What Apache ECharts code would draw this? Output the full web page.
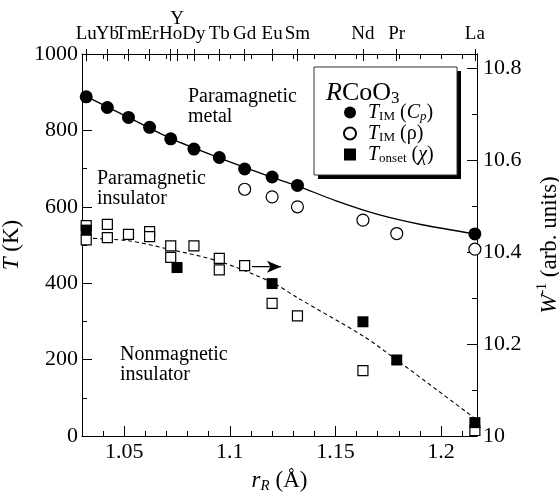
<!DOCTYPE html>
<html>
<head>
<meta charset="utf-8">
<script src="https://cdn.jsdelivr.net/npm/echarts@6/dist/echarts.min.js"></script>
<style>
  html, body { margin: 0; padding: 0; background: #fff; }
  #chart { width: 559px; height: 496px; }
</style>
</head>
<body>
<div id="chart"></div>
<script>
// ionic radius r_R (Å) of the rare earths, shown on the top axis
const elementNames = ['Lu', 'Yb', 'Tm', 'Er', 'Ho', 'Y', 'Dy', 'Tb', 'Gd', 'Eu', 'Sm', 'Nd', 'Pr', 'La']
const elementRadii = [1.032, 1.042, 1.052, 1.062, 1.072, 1.075, 1.083, 1.095, 1.107, 1.120, 1.132, 1.163, 1.179, 1.216]

// T_IM from specific heat (filled circles)
const rCp = [1.032, 1.042, 1.052, 1.062, 1.072, 1.083, 1.095, 1.107, 1.120, 1.132, 1.216]
const tCp = [888, 860, 834, 808, 778, 751, 729, 699, 678, 656, 529]

// T_IM from resistivity (open circles)
const rRho = [1.107, 1.120, 1.132, 1.163, 1.179, 1.216]
const tRho = [646, 626, 600, 565, 530, 489]

// T_onset from susceptibility (filled squares)
const rOnset = [1.032, 1.075, 1.120, 1.163, 1.179, 1.216]
const tOnset = [539, 441, 399, 299, 199, 35]

// W^-1 (open squares, right axis)
const rW = [1.032, 1.032, 1.042, 1.042, 1.052, 1.062, 1.062, 1.072, 1.072, 1.083, 1.095, 1.095, 1.107, 1.120, 1.132, 1.163, 1.216]
const wValues = [10.457, 10.426, 10.460, 10.431, 10.438, 10.444, 10.433, 10.413, 10.388, 10.413, 10.386, 10.361, 10.370, 10.288, 10.261, 10.142, 10.012]

// guide curves
const rFitCp = [1.032, 1.052, 1.072, 1.095, 1.120, 1.132, 1.150, 1.170, 1.191, 1.216]
const tFitCp = [889, 834, 779, 728, 677, 655, 616, 580, 553, 529]
const rFitOnset = [1.032, 1.052, 1.072, 1.095, 1.120, 1.132, 1.163, 1.179, 1.216]
const tFitOnset = [518, 511, 488, 457, 402, 362, 262, 199, 46]

// arrow pointing to the right axis
const rArrow = [1.1105, 1.1242]
const wArrow = [10.368, 10.368]

// ticks
const xMajorTicks = [1.05, 1.1, 1.15, 1.2]
const xMinorTicks = [1.04, 1.05, 1.06, 1.07, 1.08, 1.09, 1.1, 1.11, 1.12, 1.13, 1.14, 1.15, 1.16, 1.17, 1.18, 1.19, 1.2, 1.21]
const wMajorTicks = [10, 10.2, 10.4, 10.6, 10.8]
const wMinorTicks = [10.1, 10.3, 10.5, 10.7]

const FONT = "'Liberation Serif', 'DejaVu Serif', serif"
const X_MIN = 1.03
const X_MAX = 1.217

const zip = (xs, ys) => xs.map((x, i) => [x, ys[i]])

function baseX(extra) {
  return Object.assign({
    type: 'value',
    min: X_MIN,
    max: X_MAX,
    splitLine: { show: false },
    axisLine: { show: false, lineStyle: { color: '#000', width: 1 } },
    axisTick: { show: false },
    axisLabel: { show: false },
  }, extra)
}

// element labels alternate between two top axes so neighbours are not hidden
function elementLabelAxis(parity) {
  const values = elementRadii.filter((r, i) => i % 2 === parity)
  return baseX({
    position: 'top',
    axisLabel: {
      show: true,
      customValues: values,
      hideOverlap: false,
      showMinLabel: true,
      showMaxLabel: true,
      margin: 10,
      fontFamily: FONT,
      fontSize: 19,
      color: '#000',
      formatter: (v) => {
        const i = elementRadii.findIndex((r) => Math.abs(r - v) < 1e-6)
        const name = i >= 0 ? elementNames[i] : ''
        return name === 'Y' ? '{up|Y}' : name
      },
      rich: {
        up: { fontFamily: FONT, fontSize: 19, padding: [0, 0, 15, 0] },
      },
    },
  })
}

const legendNames = {
  TIM_Cp: '{i|T}{sub|IM} ({i|C}{subi|p})',
  TIM_rho: '{i|T}{sub|IM} (ρ)',
  Tonset: '{i|T}{sub|onset} ({i|χ})',
}

const chart = echarts.init(document.getElementById('chart'))

const option = {
  animation: false,
  backgroundColor: '#fff',
  textStyle: { fontFamily: FONT, color: '#000' },
  grid: { left: 82, right: 82, top: 54, bottom: 60, containLabel: false, outerBoundsMode: 'none' },
  title: {
    text: '{i|R}CoO{sub|3}',
    left: 321,
    top: 74,
    z: 8,
    textStyle: {
      fontFamily: FONT,
      fontSize: 26,
      fontWeight: 'normal',
      color: '#000',
      lineHeight: 28,
      rich: {
        i: { fontFamily: FONT, fontSize: 26, fontStyle: 'italic', lineHeight: 28 },
        sub: { fontFamily: FONT, fontSize: 17, lineHeight: 14, verticalAlign: 'bottom' },
      },
    },
  },
  legend: {
    data: [
      { name: 'TIM_Cp' },
      { name: 'TIM_rho' },
      { name: 'Tonset', icon: 'path://M0 0h10v10h-10z' },
    ],
    orient: 'vertical',
    left: 343,
    top: 102,
    padding: 0,
    itemGap: 0,
    itemWidth: 26,
    itemHeight: 12,
    z: 7,
    formatter: (name) => legendNames[name],
    textStyle: {
      fontFamily: FONT,
      fontSize: 20,
      color: '#000',
      lineHeight: 21,
      rich: {
        i: { fontFamily: FONT, fontSize: 20, fontStyle: 'italic', lineHeight: 21 },
        sub: { fontFamily: FONT, fontSize: 13, lineHeight: 11, verticalAlign: 'bottom' },
        subi: { fontFamily: FONT, fontSize: 13, fontStyle: 'italic', lineHeight: 11, verticalAlign: 'bottom' },
      },
    },
  },
  xAxis: [
    baseX({
      position: 'bottom',
      name: '{i|r}{sub|R} (Å)',
      nameLocation: 'middle',
      nameGap: 32,
      nameTextStyle: {
        fontFamily: FONT,
        fontSize: 23,
        color: '#000',
        lineHeight: 26,
        rich: {
          i: { fontFamily: FONT, fontSize: 23, fontStyle: 'italic', lineHeight: 26 },
          sub: { fontFamily: FONT, fontSize: 15, fontStyle: 'italic', lineHeight: 12, verticalAlign: 'bottom' },
        },
      },
      axisLine: { show: true, lineStyle: { color: '#000', width: 1 } },
      axisTick: { show: true, inside: true, length: 10, customValues: xMajorTicks, lineStyle: { color: '#000' } },
      axisLabel: {
        show: true,
        customValues: xMajorTicks,
        margin: 5,
        fontFamily: FONT,
        fontSize: 22,
        color: '#000',
        formatter: (v) => String(+v.toFixed(2)),
      },
    }),
    baseX({
      position: 'bottom',
      axisTick: { show: true, inside: true, length: 5, customValues: xMinorTicks, lineStyle: { color: '#000' } },
    }),
    baseX({
      position: 'top',
      axisLine: { show: true, lineStyle: { color: '#000', width: 1 } },
      axisTick: { show: true, inside: true, length: 5, customValues: xMinorTicks, lineStyle: { color: '#000' } },
    }),
    baseX({
      position: 'top',
      axisTick: { show: true, inside: true, length: 7, customValues: elementRadii, lineStyle: { color: '#000' } },
    }),
    baseX({
      position: 'top',
      axisTick: { show: true, inside: false, length: 5, customValues: elementRadii, lineStyle: { color: '#000' } },
    }),
    elementLabelAxis(0),
    elementLabelAxis(1),
  ],
  yAxis: [
    {
      type: 'value',
      position: 'left',
      min: 0,
      max: 1000,
      interval: 200,
      name: '{i|T} (K)',
      nameLocation: 'middle',
      nameRotate: 90,
      nameGap: 37,
      nameTextStyle: {
        fontFamily: FONT,
        fontSize: 23,
        color: '#000',
        rich: { i: { fontFamily: FONT, fontSize: 23, fontStyle: 'italic' } },
      },
      splitLine: { show: false },
      axisLine: { show: true, lineStyle: { color: '#000', width: 1 } },
      axisTick: { show: true, inside: true, length: 10, lineStyle: { color: '#000' } },
      minorTick: { show: true, splitNumber: 2, length: 5, lineStyle: { color: '#000' } },
      axisLabel: { margin: 4, fontFamily: FONT, fontSize: 22, color: '#000', formatter: (v) => String(v) },
    },
    {
      type: 'value',
      position: 'right',
      min: 10,
      max: 10.83,
      name: '{i|W}{sup|-1} (arb. units)',
      nameLocation: 'middle',
      nameRotate: 90,
      nameGap: 58,
      nameTextStyle: {
        fontFamily: FONT,
        fontSize: 23,
        color: '#000',
        lineHeight: 30,
        rich: {
          i: { fontFamily: FONT, fontSize: 23, fontStyle: 'italic', lineHeight: 30 },
          sup: { fontFamily: FONT, fontSize: 14, lineHeight: 12, verticalAlign: 'top' },
        },
      },
      splitLine: { show: false },
      axisLine: { show: true, lineStyle: { color: '#000', width: 1 } },
      axisTick: { show: true, inside: true, length: 10, customValues: wMajorTicks, lineStyle: { color: '#000' } },
      axisLabel: {
        customValues: wMajorTicks,
        margin: 6,
        fontFamily: FONT,
        fontSize: 22,
        color: '#000',
        formatter: (v) => String(+v.toFixed(1)),
      },
    },
    {
      type: 'value',
      position: 'right',
      min: 10,
      max: 10.83,
      splitLine: { show: false },
      axisLine: { show: false },
      axisTick: { show: true, inside: true, length: 5, customValues: wMinorTicks, lineStyle: { color: '#000' } },
      axisLabel: { show: false },
    },
  ],
  graphic: [
    // legend frame with its drop shadow
    {
      type: 'rect',
      z: 5,
      shape: { x: 318, y: 71, width: 143, height: 108 },
      style: { fill: '#000' },
    },
    {
      type: 'rect',
      z: 5,
      shape: { x: 314, y: 67, width: 143, height: 108 },
      style: { fill: '#fff', stroke: '#333', lineWidth: 1 },
    },
    {
      type: 'text',
      left: 188,
      top: 87,
      style: { text: 'Paramagnetic\nmetal', font: `20px ${FONT}`, fill: '#000', lineHeight: 20 },
    },
    {
      type: 'text',
      left: 97,
      top: 169,
      style: { text: 'Paramagnetic\ninsulator', font: `20px ${FONT}`, fill: '#000', lineHeight: 20 },
    },
    {
      type: 'text',
      left: 120,
      top: 345,
      style: { text: 'Nonmagnetic\ninsulator', font: `20px ${FONT}`, fill: '#000', lineHeight: 20 },
    },
  ],
  series: [
    {
      name: 'fitCp',
      type: 'line',
      data: zip(rFitCp, tFitCp),
      smooth: 0.3,
      symbol: 'none',
      lineStyle: { color: '#000', width: 1.3 },
      z: 1,
    },
    {
      name: 'fitOnset',
      type: 'line',
      data: zip(rFitOnset, tFitOnset),
      smooth: 0.3,
      symbol: 'none',
      lineStyle: { color: '#000', width: 1.1, type: [4, 3] },
      z: 1,
    },
    {
      name: 'arrow',
      type: 'line',
      yAxisIndex: 1,
      data: [
        { value: [rArrow[0], wArrow[0]], symbol: 'none' },
        { value: [rArrow[1], wArrow[1]], symbol: 'arrow', symbolSize: [9, 14], symbolRotate: -90 },
      ],
      showSymbol: true,
      lineStyle: { color: '#000', width: 1.3 },
      itemStyle: { color: '#000' },
      z: 2,
    },
    {
      name: 'W',
      type: 'scatter',
      yAxisIndex: 1,
      data: zip(rW, wValues),
      symbol: 'rect',
      symbolSize: 10,
      itemStyle: { color: '#fff', borderColor: '#000', borderWidth: 1.2, opacity: 1 },
      z: 3,
    },
    {
      name: 'TIM_rho',
      type: 'scatter',
      data: zip(rRho, tRho),
      symbol: 'circle',
      symbolSize: 12,
      itemStyle: { color: '#fff', borderColor: '#000', borderWidth: 1.2, opacity: 1 },
      z: 3,
    },
    {
      name: 'TIM_Cp',
      type: 'scatter',
      data: zip(rCp, tCp),
      symbol: 'circle',
      symbolSize: 13,
      itemStyle: { color: '#000', opacity: 1 },
      z: 4,
    },
    {
      name: 'Tonset',
      type: 'scatter',
      data: zip(rOnset, tOnset),
      symbol: 'rect',
      symbolSize: 11,
      itemStyle: { color: '#000', opacity: 1 },
      z: 4,
    },
  ],
}

chart.setOption(option)
</script>
</body>
</html>
